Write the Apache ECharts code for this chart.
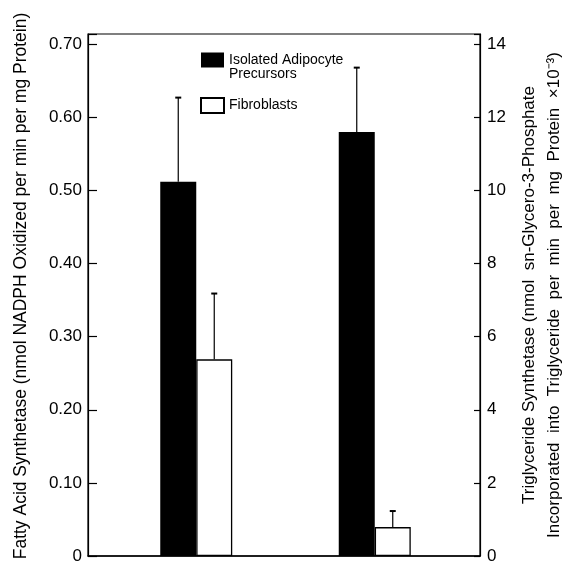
<!DOCTYPE html>
<html>
<head>
<meta charset="utf-8">
<script src="https://cdn.jsdelivr.net/npm/echarts@6/dist/echarts.min.js"></script>
<style>
html, body { margin: 0; padding: 0; background: #fff; }
#chart { width: 567px; height: 574px; }
</style>
</head>
<body>
<div id="chart"></div>
<script>
// data
const categories = ['Fatty Acid Synthetase', 'Triglyceride Synthetase'];
const groupNames = ['Isolated Adipocyte Precursors', 'Fibroblasts'];
// first value: nmol NADPH/min/mg (left axis), second: x10^-3 (right axis)
const adipoMean = [0.512, 11.6];
const adipoErr = [0.115, 1.76];
const fibroMean = [0.269, 0.79];
const fibroErr = [0.090, 0.44];
const leftTickLabels = ['0', '0.10', '0.20', '0.30', '0.40', '0.50', '0.60', '0.70'];
const rightTickLabels = ['0', '2', '4', '6', '8', '10', '12', '14'];

const means = [adipoMean, fibroMean];
const errs = [adipoErr, fibroErr];
const font = 'Liberation Sans, Arial, sans-serif';
const BW = 36;

const chart = echarts.init(document.getElementById('chart'));

// axis 0/1 = visible scales, 2/3 = hidden copies used by the bars
const leftMax = 0.714, rightMax = 14.28;

function tickFmt(labels, step) {
  return v => {
    const i = Math.round(v / step);
    return Math.abs(v - i * step) < 1e-6 && labels[i] !== undefined ? labels[i] : '';
  };
}

const series = [];
means.forEach((mean, g) => {
  categories.forEach((cat, c) => {
    series.push({
      name: groupNames[g],
      type: 'bar',
      xAxisIndex: 1,
      yAxisIndex: c === 0 ? 2 : 3,
      stack: 'g' + g,
      barWidth: BW,
      barGap: '0%',
      itemStyle: g === 0
        ? { color: '#000' }
        : { color: '#fff', borderColor: '#000', borderWidth: 1.3 },
      data: categories.map((_, i) => (i === c ? mean[c] : '-'))
    });
  });
});
means.forEach((mean, g) => {
  const dx = g === 0 ? -BW / 2 : BW / 2;
  categories.forEach((cat, c) => {
    series.push({
      name: 'err' + g + c,
      type: 'custom',
      xAxisIndex: 1,
      yAxisIndex: c === 0 ? 2 : 3,
      z: 5,
      data: [[c, mean[c], errs[g][c]]],
      renderItem: (params, api) => {
        const base = api.coord([api.value(0), api.value(1)]);
        const top = api.coord([api.value(0), api.value(1) + api.value(2)]);
        const x = base[0] + dx;
        return {
          type: 'group',
          children: [
            { type: 'line', shape: { x1: x, y1: base[1], x2: x, y2: top[1] },
              style: { stroke: '#000', lineWidth: 1.2 } },
            { type: 'line', shape: { x1: x - 3, y1: top[1], x2: x + 3, y2: top[1] },
              style: { stroke: '#000', lineWidth: 2 } }
          ]
        };
      }
    });
  });
});

const option = {
  animation: false,
  backgroundColor: '#fff',
  textStyle: { fontFamily: font },
  grid: [
    { left: 88, right: 87, top: 34, bottom: 18, show: true, borderColor: '#000', borderWidth: 1.2,
      containLabel: false, outerBoundsMode: 'none' },
    { left: 107, right: 103, top: 34, bottom: 18, containLabel: false, outerBoundsMode: 'none' }
  ],
  legend: {
    left: 195,
    top: 34,
    orient: 'vertical',
    icon: 'rect',
    itemWidth: 23,
    itemHeight: 15,
    itemGap: 16,
    selectedMode: false,
    textStyle: { fontSize: 14, color: '#000', lineHeight: 14 },
    // leading blank line keeps the first text line level with the box
    formatter: name => (name === groupNames[0] ? '\nIsolated Adipocyte\nPrecursors' : name),
    data: groupNames
  },
  xAxis: [
    { gridIndex: 0, type: 'category', data: categories,
      axisLine: { lineStyle: { color: '#000', width: 1.5 } },
      axisTick: { show: false }, axisLabel: { show: false } },
    { gridIndex: 1, type: 'category', data: categories, show: false }
  ],
  yAxis: [
    { gridIndex: 0, type: 'value', position: 'left', min: 0, max: leftMax, interval: 0.1,
      name: 'Fatty Acid Synthetase (nmol NADPH Oxidized per min per mg Protein)',
      nameLocation: 'middle', nameRotate: 90, nameGap: 58,
      nameTextStyle: { fontSize: 17.5, color: '#000', padding: [0, 0, 0, 18] },
      axisLine: { show: true, lineStyle: { color: '#000', width: 1.2 } },
      axisTick: { show: true, inside: true, length: 9, lineStyle: { color: '#000', width: 1.2 } },
      axisLabel: { color: '#000', fontSize: 17, margin: 6, formatter: tickFmt(leftTickLabels, 0.1) },
      splitLine: { show: false } },
    { gridIndex: 0, type: 'value', position: 'right', min: 0, max: rightMax, interval: 2,
      name: 'Triglyceride Synthetase (nmol  sn-Glycero-3-Phosphate\nIncorporated  into  Triglyceride  per  min  per  mg  Protein  \u00d710\u207b\u00b3)',
      nameLocation: 'middle', nameRotate: 90, nameGap: 36,
      nameTextStyle: { fontSize: 17, color: '#000', lineHeight: 25 },
      axisLine: { show: true, lineStyle: { color: '#000', width: 1.2 } },
      axisTick: { show: true, inside: true, length: 6, lineStyle: { color: '#000', width: 1.2 } },
      axisLabel: { color: '#000', fontSize: 17, margin: 7, formatter: tickFmt(rightTickLabels, 2) },
      splitLine: { show: false } },
    { gridIndex: 1, type: 'value', min: 0, max: leftMax, show: false, splitLine: { show: false } },
    { gridIndex: 1, type: 'value', min: 0, max: rightMax, show: false, splitLine: { show: false } }
  ],
  series: series
};

chart.setOption(option);
</script>
</body>
</html>
